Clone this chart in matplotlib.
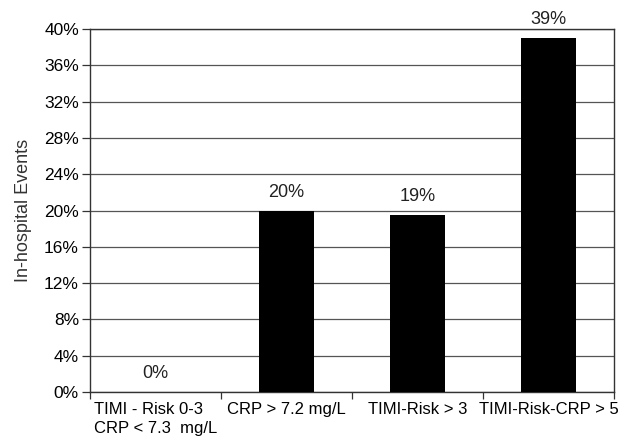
import matplotlib

matplotlib.use("Agg")
import matplotlib.pyplot as plt
from matplotlib.ticker import FuncFormatter, MultipleLocator

categories = ["TIMI - Risk 0-3\nCRP < 7.3  mg/L", "CRP > 7.2 mg/L", "TIMI-Risk > 3", "TIMI-Risk-CRP > 5"]
values = [0.0, 20.0, 19.5, 39.0]
bar_labels = ["0%", "20%", "19%", "39%"]

plt.rcParams["font.family"] = ["Liberation Sans", "DejaVu Sans"]

fig = plt.figure(figsize=(6.25, 4.43), dpi=100)
ax = fig.add_axes([0.1440, 0.1151, 0.8384, 0.8194])

x = list(range(len(categories)))
ax.bar(x, values, width=0.42, color="black", zorder=3)

for xi, v, lab in zip(x, values, bar_labels):
    ax.text(xi, v + 1.1, lab, ha="center", va="bottom", fontsize=13, color="#222222")

ax.set_xlim(-0.5, len(categories) - 0.5)
ax.set_ylim(0, 40)
ax.yaxis.set_major_locator(MultipleLocator(4))
ax.yaxis.set_major_formatter(FuncFormatter(lambda v, p: f"{v:.0f}%"))
ax.grid(axis="y", color="#555555", linewidth=0.9, zorder=0)

# ticks at category boundaries, labels at centers
ax.set_xticks([i - 0.5 for i in range(len(categories) + 1)])
ax.set_xticklabels([])
ax.set_xticks(x, minor=True)
ax.set_xticklabels(categories, minor=True, fontsize=12, multialignment="left", linespacing=1.35)
ax.tick_params(axis="x", which="minor", length=0, pad=7)
ax.tick_params(axis="x", which="major", length=5, width=0.9, color="#333333")
ax.tick_params(axis="y", length=6, width=0.9, color="#333333", labelsize=12.5, pad=2)

for spine in ax.spines.values():
    spine.set_color("#333333")
    spine.set_linewidth(1.0)

ax.set_ylabel("In-hospital Events", fontsize=13, color="#333333", labelpad=9)

fig.savefig("out.png", dpi=100)
